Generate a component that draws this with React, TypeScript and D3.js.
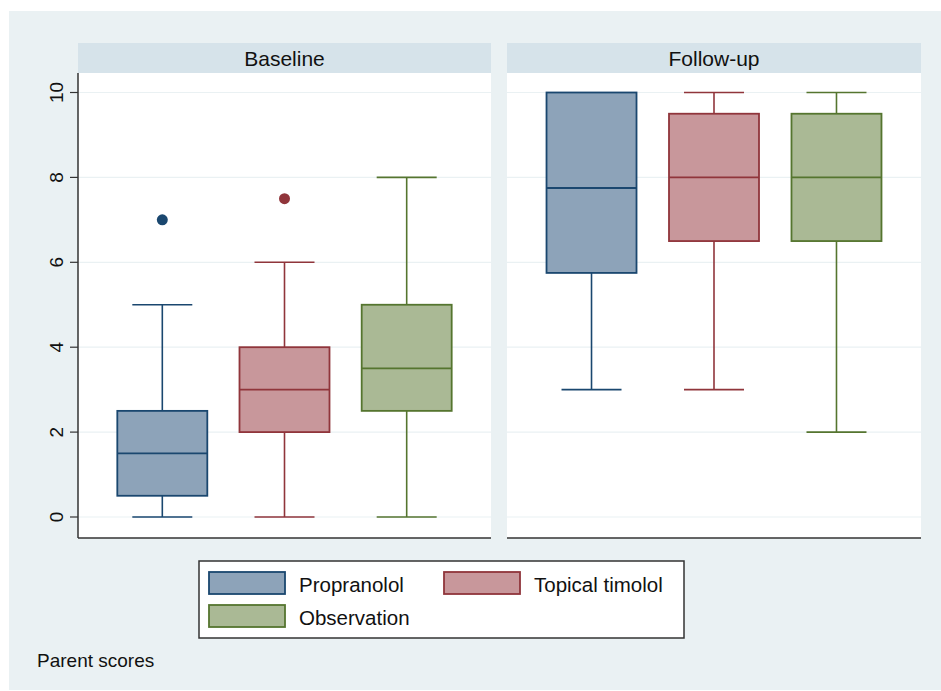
import React from "react";
import * as d3 from "d3";

const panels = ["Baseline", "Follow-up"];
const groups = ["Propranolol", "Topical timolol", "Observation"];
// [min, q1, median, q3, max] per panel, per group
const baselineStats = [
  [0, 0.5, 1.5, 2.5, 5],
  [0, 2, 3, 4, 6],
  [0, 2.5, 3.5, 5, 8],
];
const followupStats = [
  [3, 5.75, 7.75, 10, 10],
  [3, 6.5, 8, 9.5, 10],
  [2, 6.5, 8, 9.5, 10],
];
const baselineOutliers = [[7], [7.5], []];
const followupOutliers = [[], [], []];
const yTicks = [0, 2, 4, 6, 8, 10];
const noteText = "Parent scores";

const strokeColors = ["#1a476f", "#90353b", "#55752f"];
const fillColors = ["#8da3b9", "#c8979b", "#aab995"];

export default function App() {
  const W = 941, H = 691;
  const plotTop = 73, plotBottom = 538;
  const y = d3.scaleLinear().domain([0, 10]).range([517, 92.5]);
  const panelX = [
    [78, 491],
    [507, 921],
  ];
  const stats = [baselineStats, followupStats];
  const outliers = [baselineOutliers, followupOutliers];
  const boxW = 90, capW = 60;
  const font = "Liberation Sans, Arial, sans-serif";

  return (
    <svg width={W} height={H} style={{ position: "absolute", left: 0, top: 0 }} fontFamily={font}>
      <rect x={0} y={0} width={W} height={H} fill="#ffffff" />
      <rect x={9} y={11} width={W - 9} height={679} fill="#eaf1f3" />
      {panels.map((p, pi) => {
        const [x0, x1] = panelX[pi];
        const xs = d3.scalePoint<string>().domain(groups).range([x0, x1]).padding(0.69);
        return (
          <g key={p}>
            <rect x={x0} y={43} width={x1 - x0} height={30} fill="#d6e3ea" />
            <text x={(x0 + x1) / 2} y={66} textAnchor="middle" fontSize={21} fill="#111">{p}</text>
            <rect x={x0} y={plotTop} width={x1 - x0} height={plotBottom - plotTop} fill="#ffffff" />
            {yTicks.map((t) => (
              <line key={t} x1={x0} x2={x1} y1={y(t)} y2={y(t)} stroke="#eaf1f3" strokeWidth={1.2} />
            ))}
            <line x1={x0} x2={x1} y1={plotBottom} y2={plotBottom} stroke="#333" strokeWidth={1.5} />
            {groups.map((g, gi) => {
              const [mn, q1, md, q3, mx] = stats[pi][gi];
              const cx = xs(g)!;
              const sc = strokeColors[gi];
              return (
                <g key={g}>
                  {mx > q3 && <line x1={cx} x2={cx} y1={y(q3)} y2={y(mx)} stroke={sc} strokeWidth={1.6} />}
                  {mn < q1 && <line x1={cx} x2={cx} y1={y(q1)} y2={y(mn)} stroke={sc} strokeWidth={1.6} />}
                  {mx > q3 && <line x1={cx - capW / 2} x2={cx + capW / 2} y1={y(mx)} y2={y(mx)} stroke={sc} strokeWidth={1.6} />}
                  {mn < q1 && <line x1={cx - capW / 2} x2={cx + capW / 2} y1={y(mn)} y2={y(mn)} stroke={sc} strokeWidth={1.6} />}
                  <rect x={cx - boxW / 2} y={y(q3)} width={boxW} height={y(q1) - y(q3)} fill={fillColors[gi]} stroke={sc} strokeWidth={1.8} />
                  <line x1={cx - boxW / 2} x2={cx + boxW / 2} y1={y(md)} y2={y(md)} stroke={sc} strokeWidth={1.8} />
                  {outliers[pi][gi].map((o, oi) => (
                    <circle key={oi} cx={cx} cy={y(o)} r={5.5} fill={sc} />
                  ))}
                </g>
              );
            })}
          </g>
        );
      })}
      {/* y axis */}
      <line x1={78} x2={78} y1={plotTop} y2={plotBottom} stroke="#333" strokeWidth={1.5} />
      {yTicks.map((t) => (
        <g key={t}>
          <line x1={70} x2={78} y1={y(t)} y2={y(t)} stroke="#333" strokeWidth={1.2} />
          <text transform={`translate(63,${y(t)}) rotate(-90)`} textAnchor="middle" fontSize={19} fill="#111">{t}</text>
        </g>
      ))}
      {/* legend */}
      <rect x={199} y={561} width={485} height={77} fill="#ffffff" stroke="#333" strokeWidth={1.5} />
      {groups.map((g, gi) => {
        const col = gi % 2, row = Math.floor(gi / 2);
        const kx = col === 0 ? 209 : 444;
        const ky = row === 0 ? 572 : 605;
        return (
          <g key={g}>
            <rect x={kx} y={ky} width={76} height={22} fill={fillColors[gi]} stroke={strokeColors[gi]} strokeWidth={1.8} />
            <text x={kx + 90} y={ky + 19.5} fontSize={20.5} fill="#111">{g}</text>
          </g>
        );
      })}
      <text x={37} y={667} fontSize={19} fill="#111">{noteText}</text>
    </svg>
  );
}
